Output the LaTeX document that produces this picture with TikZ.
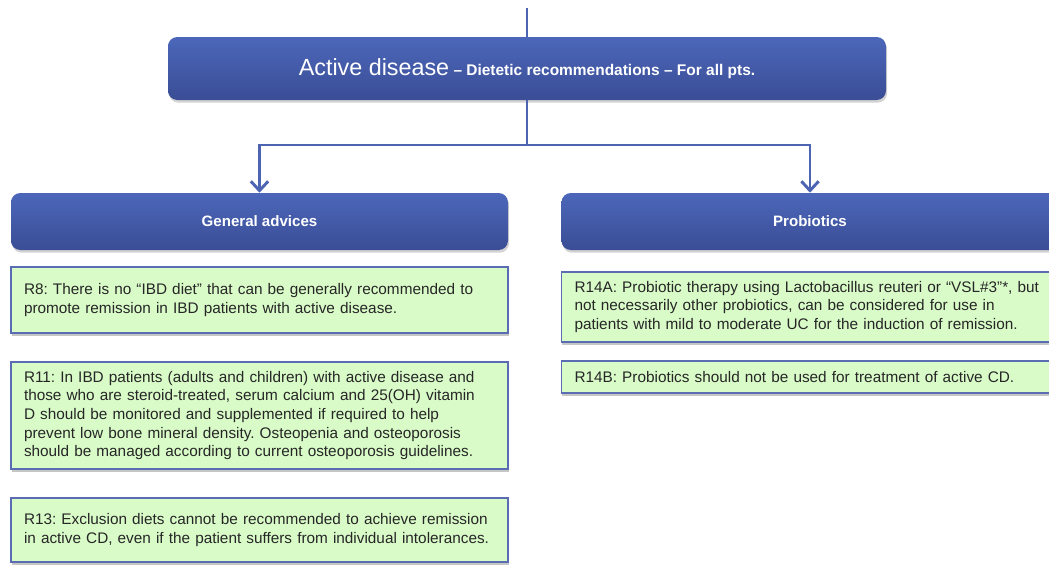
\documentclass[tikz,border=0pt]{standalone}
\usepackage{fontspec}
\setmainfont{Liberation Sans}
\usepackage{tikz}
\usetikzlibrary{arrows.meta,shadows}
\frenchspacing

\definecolor{hdrtop}{HTML}{4C67BA}
\definecolor{hdrbot}{HTML}{3A4D95}
\definecolor{recfill}{HTML}{D9FBC8}
\definecolor{recline}{HTML}{5A6DB3}
\definecolor{linkblue}{HTML}{4C64B2}
\definecolor{txt}{HTML}{262626}

\begin{document}
\begin{tikzpicture}[x=0.75pt, y=-0.75pt,
    header/.style={rounded corners=7pt, top color=hdrtop, bottom color=hdrbot,
      text=white, font=\bfseries\fontsize{11.3}{13}\selectfont,
      minimum width=372.75pt, minimum height=42.75pt,
      drop shadow={opacity=0.35, shadow xshift=0.8pt, shadow yshift=-2pt}},
    rec/.style={draw=recline, line width=1.4pt, fill=recfill, text=txt,
      font=\fontsize{11.5}{13.9}\selectfont, align=left,
      text width=353.25pt, inner xsep=9.75pt,
      drop shadow={opacity=0.45, shadow xshift=0.6pt, shadow yshift=-2.5pt}},
    link/.style={draw=linkblue, line width=2.2pt},
    arrowlink/.style={link, -{Straight Barb[length=7pt,width=13pt,line width=2.2pt]}}]
	\useasboundingbox (0,0) rectangle (1049,564);
	\clip (0,0) rectangle (1049,564);
	
	% Title box
	\node[header, minimum width=538.5pt, minimum height=47.25pt, font=\fontsize{11.6}{13}\selectfont] (title) at (527,68.5)
		{{\fontsize{17.5}{20}\selectfont Active disease} {\bfseries – Dietetic recommendations – For all pts.}};
	
	% Branch headers
	\node[header] (general) at (259.5,221.5) {General advices};
	\node[header] (probio) at (810,221.5) {Probiotics};
	
	% Connectors
	\coordinate (in) at (527,8);
	\coordinate (junc) at (527,145);
	\draw[link] (in) -- (title.north);
	\draw[link] (title.south) -- (junc);
	\draw[arrowlink] (junc) -| (general.north);
	\draw[arrowlink] (junc) -| (probio.north);
	
	% General advices
	\node[rec, minimum height=49.5pt] (r8) at (259.5,300)
		{R8: There is no “IBD diet” that can be generally recommended to\\
		promote remission in IBD patients with active disease.};
	\node[rec, minimum height=80.25pt] (r11) at (259.5,415.5)
		{R11: In IBD patients (adults and children) with active disease and\\
		those who are steroid-treated, serum calcium and 25(OH) vitamin\\
		D should be monitored and supplemented if required to help\\
		prevent low bone mineral density. Osteopenia and osteoporosis\\
		should be managed according to current osteoporosis guidelines.};
	\node[rec, minimum height=48pt] (r13) at (259.5,530)
		{R13: Exclusion diets cannot be recommended to achieve remission\\
		in active CD, even if the patient suffers from individual intolerances.};
	
	% Probiotics
	\node[rec, minimum height=52.5pt] (r14a) at (810,307)
		{R14A: Probiotic therapy using Lactobacillus reuteri or “VSL\#3”*, but\\
		not necessarily other probiotics, can be considered for use in\\
		patients with mild to moderate UC for the induction of remission.};
	\node[rec, minimum height=24pt] (r14b) at (810,377)
		{R14B: Probiotics should not be used for treatment of active CD.};
	
\end{tikzpicture}
\end{document}
